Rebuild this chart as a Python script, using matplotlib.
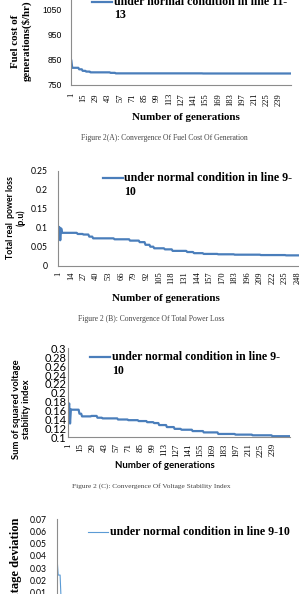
import numpy as np
import matplotlib
matplotlib.use("Agg")
import matplotlib.pyplot as plt
from matplotlib.lines import Line2D

# ---------------- data ----------------
# Panel A: fuel cost of generation ($/hr), step levels and run lengths
fuel_levels = [846, 818, 812, 806, 803, 800, 798, 796, 795.5]
fuel_runs = [1, 8, 4, 4, 5, 23, 6, 100, 101]
fuel_xticks = list(range(1, 240, 14))
fuel_yticks = [750, 850, 950, 1050, 1150]
fuel_yticklabels = ["750", "850", "950", "1050", "1150"]

# Panel B: total real power loss (p.u)
loss_levels = [0.085, 0.102, 0.067, 0.098, 0.0865, 0.0835, 0.082, 0.0765, 0.072,
               0.0695, 0.066, 0.062, 0.055, 0.050, 0.0458, 0.043, 0.039, 0.036,
               0.033, 0.031, 0.030, 0.029, 0.028, 0.0272]
loss_runs = [1, 1, 1, 1, 16, 6, 6, 4, 22, 16, 10, 6, 5, 4, 11, 8, 15, 7, 10, 15,
             17, 27, 26, 15]
loss_xticks = list(range(1, 249, 13))
loss_yticks = [0, 0.05, 0.1, 0.15, 0.2, 0.25]
loss_yticklabels = ["0", "0.05", "0.1", "0.15", "0.2", "0.25"]

# Panel C: sum of squared voltage stability index
vsi_levels = [0.165, 0.176, 0.131, 0.163, 0.162, 0.153, 0.147, 0.148, 0.144,
              0.1425, 0.140, 0.1385, 0.1365, 0.134, 0.132, 0.1275, 0.123, 0.119,
              0.117, 0.114, 0.111, 0.1075, 0.106, 0.1045, 0.1025]
vsi_runs = [1, 1, 1, 1, 9, 3, 11, 7, 6, 18, 12, 12, 10, 8, 6, 9, 9, 8, 13, 13,
            17, 20, 20, 23, 21]
vsi_xticks = list(range(1, 240, 14))
vsi_yticks = [0.1, 0.12, 0.14, 0.16, 0.18, 0.2, 0.22, 0.24, 0.26, 0.28, 0.3]
vsi_yticklabels = ["0.1", "0.12", "0.14", "0.16", "0.18", "0.2", "0.22", "0.24",
                   "0.26", "0.28", "0.3"]

# Panel D: voltage deviation
vd_levels = [0.0366, 0.0243, 0.0045, 0.0035, 0.0028]
vd_runs = [1, 3, 16, 40, 190]
vd_xticks = list(range(1, 249, 13))
vd_yticks = [0, 0.01, 0.02, 0.03, 0.04, 0.05, 0.06, 0.07]
vd_yticklabels = ["0", "0.01", "0.02", "0.03", "0.04", "0.05", "0.06", "0.07"]

legend_A = ["under normal condition in line 11-", "13"]
legend_B = ["under normal condition in line 9-", "10"]
legend_C = ["under normal condition in line 9-", "10"]
legend_D = ["under normal condition in line 9-10"]

# ---------------- layout helpers ----------------
W, H, DPI = 299, 594, 100
fig = plt.figure(figsize=(W / DPI, H / DPI), dpi=DPI)
fig.patch.set_facecolor("white")

SERIF = ["Liberation Serif", "DejaVu Serif"]
ARIAL = ["Liberation Sans", "DejaVu Sans"]
CALIBRI = ["Lato", "DejaVu Sans"]
BLUE = "#4A7EBB"
LBLUE = "#5B9BD5"
SPINE = "#8C8C8C"


def fx(px):
    return px / W


def fy(py):
    return 1 - py / H


def add_axes(left, right, top, bottom):
    return fig.add_axes([fx(left), fy(bottom), (right - left) / W, (bottom - top) / H])


def style(ax):
    for s in ("top", "right"):
        ax.spines[s].set_visible(False)
    for s in ("left", "bottom"):
        ax.spines[s].set_color(SPINE)
        ax.spines[s].set_linewidth(0.8)
    ax.tick_params(length=0)
    ax.set_facecolor("none")


def legend(x0, x1, y, lines, color, lw, xt, y2=None, size=8.6):
    fig.add_artist(Line2D([fx(x0), fx(x1)], [fy(y), fy(y)], color=color, lw=lw,
                          transform=fig.transFigure))
    fig.text(fx(xt), fy(y), lines[0], family=SERIF, weight="bold", size=size,
             ha="left", va="center")
    if len(lines) > 1:
        fig.text(fx(xt), fy(y2), lines[1], family=SERIF, weight="bold", size=size,
                 ha="left", va="center")


def xtick_setup(ax, ticks, size, pad):
    ax.set_xticks(ticks)
    ax.set_xticklabels([str(t) for t in ticks], rotation=90, family=SERIF,
                       size=size)
    ax.tick_params(axis="x", pad=pad)


# ---------------- Panel A ----------------
fuel = np.repeat(fuel_levels, fuel_runs)
xa = np.arange(1, len(fuel) + 1)
axA = add_axes(70.9, 290.6, -16.2, 85)
axA.plot(xa, fuel, color=BLUE, lw=1.6)
axA.set_xlim(0.5, len(fuel) + 0.5)
axA.set_ylim(750, 1150)
axA.set_yticks(fuel_yticks)
axA.set_yticklabels(fuel_yticklabels, family=ARIAL, size=6.2)
axA.tick_params(axis="y", pad=6.7)
xtick_setup(axA, fuel_xticks, 6.1, 5.8)
style(axA)
fig.text(fx(21.5), fy(41), "Fuel cost of\ngenerations($/hr)", family=SERIF,
         weight="bold", size=7.8, rotation=90, ha="center", va="center",
         multialignment="center", linespacing=1.15)
fig.text(fx(185.5), fy(118), "Number of generations", family=SERIF, weight="bold",
         size=7.9, ha="center", va="center")
fig.text(fx(164), fy(138), "Figure 2(A): Convergence Of Fuel Cost Of Generation",
         family=SERIF, size=5.5, color="#444444", ha="center", va="center")
legend(91.7, 111.7, 2, legend_A, BLUE, 1.6, 114, 15)

# ---------------- Panel B ----------------
loss = np.repeat(loss_levels, loss_runs)
xb = np.arange(1, len(loss) + 1)
axB = add_axes(57.8, 300.1, 170.7, 265.7)
axB.plot(xb, loss, color=BLUE, lw=1.6)
axB.set_xlim(0.5, len(loss) + 0.5)
axB.set_ylim(0, 0.25)
axB.set_yticks(loss_yticks)
axB.set_yticklabels(loss_yticklabels, family=CALIBRI, size=6.2)
axB.tick_params(axis="y", pad=7.2)
xtick_setup(axB, loss_xticks, 6.0, 4.3)
style(axB)
fig.text(fx(16), fy(218), "Total real  power loss\n(p.u)", family=CALIBRI,
         weight="bold", size=6.3, rotation=90, ha="center", va="center",
         multialignment="center", linespacing=1.2)
fig.text(fx(166), fy(298.5), "Number of generations", family=SERIF, weight="bold",
         size=7.9, ha="center", va="center")
fig.text(fx(151), fy(319), "Figure 2 (B): Convergence Of Total Power Loss",
         family=SERIF, size=5.5, color="#444444", ha="center", va="center")
legend(103, 123, 178, legend_B, BLUE, 1.6, 124.3, 192)

# ---------------- Panel C ----------------
vsi = np.repeat(vsi_levels, vsi_runs)
xc = np.arange(1, len(vsi) + 1)
axC = add_axes(67.9, 289.9, 348.3, 437.3)
axC.plot(xc, vsi, color=BLUE, lw=1.6)
axC.set_xlim(0.5, len(vsi) + 0.5)
axC.set_ylim(0.1, 0.3)
axC.set_yticks(vsi_yticks)
axC.set_yticklabels(vsi_yticklabels, family=CALIBRI, size=8.0)
axC.tick_params(axis="y", pad=1.0)
xtick_setup(axC, vsi_xticks, 6.4, 4.3)
style(axC)
fig.text(fx(21.5), fy(409), "Sum of squared voltage\nstability index",
         family=CALIBRI, weight="bold", size=6.8, rotation=90, ha="center",
         va="center", multialignment="center", linespacing=1.2)
fig.text(fx(165), fy(466), "Number of generations", family=CALIBRI, weight="bold",
         size=6.9, ha="center", va="center")
fig.text(fx(151), fy(486), "Figure 2 (C): Convergence Of Voltage Stability Index",
         family=SERIF, size=5.3, color="#444444", ha="center", va="center")
legend(90, 110, 356.7, legend_C, BLUE, 1.6, 112, 370.7)

# ---------------- Panel D ----------------
vd = np.repeat(vd_levels, vd_runs)
xd = np.arange(1, len(vd) + 1)
axD = add_axes(56.7, 299.5, 519.3, 604.7)
axD.plot(xd, vd, color=LBLUE, lw=0.8)
axD.set_xlim(0.5, len(vd) + 0.5)
axD.set_ylim(0, 0.07)
axD.set_yticks(vd_yticks)
axD.set_yticklabels(vd_yticklabels, family=CALIBRI, size=6.2)
axD.tick_params(axis="y", pad=7.2)
xtick_setup(axD, vd_xticks, 6.0, 4.3)
style(axD)
fig.text(fx(16), fy(564), "Voltage deviation", family=SERIF, weight="bold",
         size=9, rotation=90, ha="center", va="center")
legend(88, 108, 532.3, legend_D, LBLUE, 0.8, 110)

fig.savefig("out.png", dpi=DPI, facecolor="white")
